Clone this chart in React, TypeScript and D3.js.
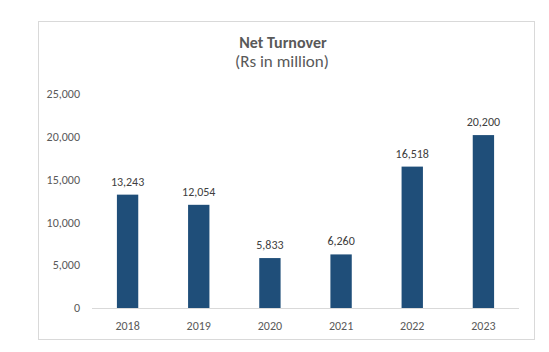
import React from "react";
import * as d3 from "d3";

const categories = ["2018", "2019", "2020", "2021", "2022", "2023"];
const values = [13243, 12054, 5833, 6260, 16518, 20200];
const yTicks = [0, 5000, 10000, 15000, 20000, 25000];
const title = "Net Turnover";
const subtitle = "(Rs in million)";

export default function App() {
  const W = 549, H = 352;
  const left = 92, right = 519, top = 94, bottom = 308;
  const x = d3.scaleBand<string>().domain(categories).range([left, right]).paddingInner(0.7).paddingOuter(0.35);
  const y = d3.scaleLinear().domain([0, 25000]).range([bottom, top]);
  const fmt = d3.format(",");
  const font = "Calibri, Carlito, Lato, 'Open Sans', sans-serif";
  return (
    <svg width={W} height={H} style={{ position: "absolute", left: 0, top: 0, background: "#fff" }} fontFamily={font}>
      <rect x={38.5} y={21.5} width={496} height={318} fill="#fff" stroke="#d9d9d9" strokeWidth={1} />
      <text x={283} y={48} textAnchor="middle" fontSize={16} fontWeight="bold" fill="#595959">{title}</text>
      <text x={282} y={67} textAnchor="middle" fontSize={17} fill="#595959">{subtitle}</text>
      {yTicks.map((t) => (
        <text key={t} x={80} y={y(t)} dy="0.35em" textAnchor="end" fontSize={12} fill="#595959">{fmt(t)}</text>
      ))}
      <line x1={left} x2={right} y1={bottom + 0.5} y2={bottom + 0.5} stroke="#d9d9d9" strokeWidth={1} />
      {categories.map((c, i) => (
        <g key={c}>
          <rect x={x(c)!} y={y(values[i])} width={x.bandwidth()} height={bottom - y(values[i])} fill="#1f4e79" />
          <text x={x(c)! + x.bandwidth() / 2} y={y(values[i]) - 9} textAnchor="middle" fontSize={12} fill="#404040">{fmt(values[i])}</text>
          <text x={x(c)! + x.bandwidth() / 2} y={330} textAnchor="middle" fontSize={12} fill="#595959">{c}</text>
        </g>
      ))}
    </svg>
  );
}
